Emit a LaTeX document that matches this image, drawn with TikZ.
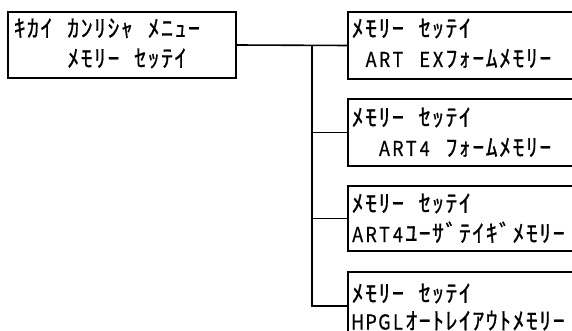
\documentclass[tikz,border=0pt]{standalone}
\usepackage{fontspec}
\usepackage{graphicx}
\setmainfont{Noto Sans CJK JP}[FakeBold=0.6]
\newlength\pitch
\setlength\pitch{13.4pt}
\newcommand\latsize{\fontsize{20.5}{20.5}\selectfont}
\newcommand\kanasize{\fontsize{24}{24}\selectfont}
\def\mono#1{\monoi#1\relax}
\def\monoi#1{\ifx\relax#1\else\monocell{#1}\expandafter\monoi\fi}
\def\monocell#1{\makebox[\pitch][c]{\ifnum`#1<128 \latsize\scalebox{0.88}[1]{#1}\else\kanasize #1\fi}}
\tikzset{
  frame/.style={draw, line width=1.6pt, inner sep=0pt, minimum width=#1, outer sep=0pt},
  conn/.style={line width=1.6pt},
  txt/.style={anchor=base west, inner sep=0pt, outer sep=0pt}
}
\begin{document}
\begin{tikzpicture}[x=1pt,y=-1pt]
\useasboundingbox (0,0) rectangle (572,331);
\clip (0,0) rectangle (572,331);
% boxes
\node[frame=228pt, minimum height=66pt] (L) at (122,45) {};
\node[frame=236pt, minimum height=67pt] (R1) at (466,45.5) {};
\node[frame=236pt, minimum height=67pt] (R2) at (466,132.5) {};
\node[frame=236pt, minimum height=65pt] (R3) at (466,218.5) {};
\node[frame=236pt, minimum height=68pt] (R4) at (466,306) {};
% junctions
\coordinate (J) at (312,45);
\draw[conn] (L.east) -- (R1.west);
\draw[conn] (J) |- (R2.west);
\draw[conn] (J) |- (R3.west);
\draw[conn] (J) |- (R4.west);
% texts
\node[txt] (L1) at (13,37) {\mono{ｷｶｲ~ｶﾝﾘｼｬ~ﾒﾆｭｰ}};
\node[txt] (L2) at (13,67) {\mono{~~~~ﾒﾓﾘｰ~ｾｯﾃｲ}};
\node[txt] (A1) at (351,37) {\mono{ﾒﾓﾘｰ~ｾｯﾃｲ}};
\node[txt] (A2) at (351,67) {\mono{~ART~EXﾌｫｰﾑﾒﾓﾘｰ}};
\node[txt] (B1) at (351,126) {\mono{ﾒﾓﾘｰ~ｾｯﾃｲ}};
\node[txt] (B2) at (351,156) {\mono{~~ART4~ﾌｫｰﾑﾒﾓﾘｰ}};
\node[txt] (C1) at (351,212) {\mono{ﾒﾓﾘｰ~ｾｯﾃｲ}};
\node[txt] (C2) at (351,242) {\mono{ART4ﾕｰｻﾞﾃｲｷﾞﾒﾓﾘｰ}};
\node[txt] (D1) at (351,302) {\mono{ﾒﾓﾘｰ~ｾｯﾃｲ}};
\node[txt] (D2) at (351,329.5) {\mono{HPGLｵｰﾄﾚｲｱｳﾄﾒﾓﾘｰ}};
\end{tikzpicture}
\end{document}
